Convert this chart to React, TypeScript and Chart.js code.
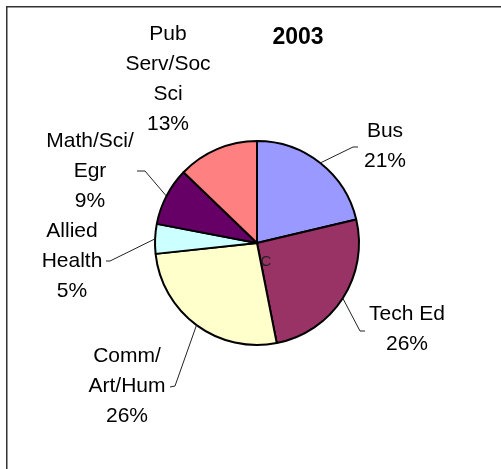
import React, { useEffect, useRef } from "react";
import { Chart, registerables } from "chart.js";

Chart.register(...registerables);

const title = "2003";
const categories = ["Bus", "Tech Ed", "Comm/Art/Hum", "Allied Health", "Math/Sci/Egr", "Pub Serv/Soc Sci"];
const labelLines = [
  ["Bus"],
  ["Tech Ed"],
  ["Comm/", "Art/Hum"],
  ["Allied", "Health"],
  ["Math/Sci/", "Egr"],
  ["Pub", "Serv/Soc", "Sci"],
];
const shares = [21.3, 25.6, 26.4, 4.7, 9.2, 12.8];
const colors = ["#9999FF", "#993366", "#FFFFCC", "#CCFFFF", "#660066", "#FF8080"];

// label layout relative to pie centre: text block centre (first line), leader elbow and leader end
const layout = [
  { tx: 128, ty: -112, leader: [[96, -96], [101, -96]] },
  { tx: 150, ty: 71, leader: [[103, 88], [108, 88]] },
  { tx: -130, ty: 113, leader: [[-82, 143], [-87, 144]] },
  { tx: -185, ty: -12, leader: [[-147, 18], [-151, 18]] },
  { tx: -167, ty: -102, leader: [[-112, -72], [-120, -72]] },
  { tx: -89, ty: -209, leader: null as null | number[][] },
];

const FONT = '"Liberation Sans", Arial, sans-serif';

const labelPlugin = {
  id: "excelLabels",
  afterDatasetsDraw(chart: any) {
    const ctx = chart.ctx;
    const meta = chart.getDatasetMeta(0);
    const total = shares.reduce((a, b) => a + b, 0);
    ctx.save();
    // frame
    ctx.strokeStyle = "#333";
    ctx.lineWidth = 1.5;
    ctx.beginPath();
    ctx.moveTo(6.75, 469);
    ctx.lineTo(6.75, 6.75);
    ctx.lineTo(501, 6.75);
    ctx.stroke();

    const arc0 = meta.data[0];
    const cx = arc0.x;
    const cy = arc0.y;
    // title
    ctx.fillStyle = "#000";
    ctx.font = `bold 23px ${FONT}`;
    ctx.textAlign = "center";
    ctx.textBaseline = "middle";
    ctx.fillText(title, cx + 41, cy - 205);

    meta.data.forEach((arc: any, i: number) => {
      const { startAngle, endAngle, outerRadius } = arc.getProps(["startAngle", "endAngle", "outerRadius"], true);
      const mid = (startAngle + endAngle) / 2;
      const sx = cx + Math.cos(mid) * outerRadius;
      const sy = cy + Math.sin(mid) * outerRadius;
      const L = layout[i];
      if (L.leader) {
        ctx.strokeStyle = "#222";
        ctx.lineWidth = 1;
        ctx.beginPath();
        ctx.moveTo(sx, sy);
        L.leader.forEach((p) => ctx.lineTo(cx + p[0], cy + p[1]));
        ctx.stroke();
      }
      const pct = Math.round((shares[i] / total) * 100) + "%";
      const lines = [...labelLines[i], pct];
      ctx.fillStyle = "#000";
      ctx.font = `21px ${FONT}`;
      ctx.textAlign = "center";
      ctx.textBaseline = "middle";
      lines.forEach((t, k) => ctx.fillText(t, cx + L.tx, cy + L.ty + k * 30));
    });

    // stray clipped label fragment
    ctx.fillStyle = "#222";
    ctx.font = `15px ${FONT}`;
    ctx.fillText("C", cx + 9, cy + 19);
    ctx.restore();
  },
};

export default function App() {
  const ref = useRef<HTMLCanvasElement>(null);
  useEffect(() => {
    if (!ref.current) return;
    const chart = new Chart(ref.current, {
      type: "pie",
      data: {
        labels: categories,
        datasets: [
          {
            data: shares,
            backgroundColor: colors,
            borderColor: "#000",
            borderWidth: 2,
          },
        ],
      },
      options: {
        responsive: false,
        animation: false,
        layout: { padding: { left: 154, right: 141, top: 140, bottom: 123 } },
        plugins: { legend: { display: false }, tooltip: { enabled: false }, title: { display: false } },
      },
      plugins: [labelPlugin],
    });
    return () => chart.destroy();
  }, []);
  return (
    <canvas
      ref={ref}
      width={501}
      height={469}
      style={{ position: "absolute", left: 0, top: 0, width: 501, height: 469, background: "#fff" }}
    />
  );
}
